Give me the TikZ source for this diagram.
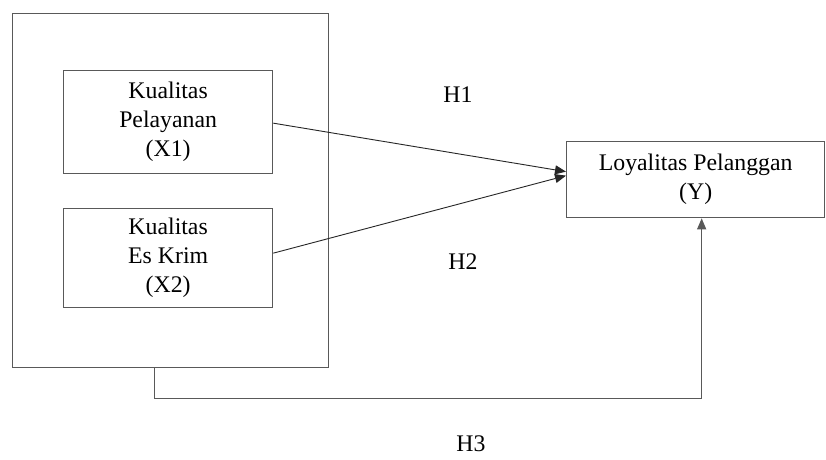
\documentclass[tikz,border=0pt]{standalone}
\usepackage{fontspec}
\setmainfont{Liberation Serif}
\usetikzlibrary{arrows.meta}
\begin{document}
\begin{tikzpicture}[x=1pt,y=-1pt,
  box/.style={draw=black!65, line width=1.3pt, anchor=north west, inner sep=0pt,
    align=center, font=\fontsize{23.8}{29}\selectfont},
  arr/.style={draw=black!85, line width=0.9pt, -{Triangle[length=11pt,width=9pt]}},
  lbl/.style={font=\fontsize{23.8}{29}\selectfont, inner sep=0pt}]
\useasboundingbox[fill=white] (0,0) rectangle (826,459);
\node[box, minimum width=316pt, minimum height=354pt] (outer) at (12,13) {};
\node[box, minimum width=209pt, minimum height=103pt] (x1) at (63,70) {Kualitas\\Pelayanan\\(X1)};
\node[box, minimum width=209pt, minimum height=99pt] (x2) at (63,208) {Kualitas\\Es Krim\\(X2)};
\node[box, minimum width=258pt, minimum height=76pt] (y) at (566,141) {Loyalitas Pelanggan\\(Y)};
\draw[arr] ([yshift=-1pt]x1.east) -- ([yshift=8pt]y.west);
\draw[arr] ([yshift=5pt]x2.east) -- ([yshift=4pt]y.west);
\draw[arr, draw=black!65, line width=1.2pt] ([xshift=-16pt]outer.south) -- ++(0,30) -| ([xshift=6pt]y.south);
\node[lbl] (h1) at (458,95) {H1};
\node[lbl] (h2) at (463,262) {H2};
\node[lbl] (h3) at (471,444) {H3};
\end{tikzpicture}
\end{document}
